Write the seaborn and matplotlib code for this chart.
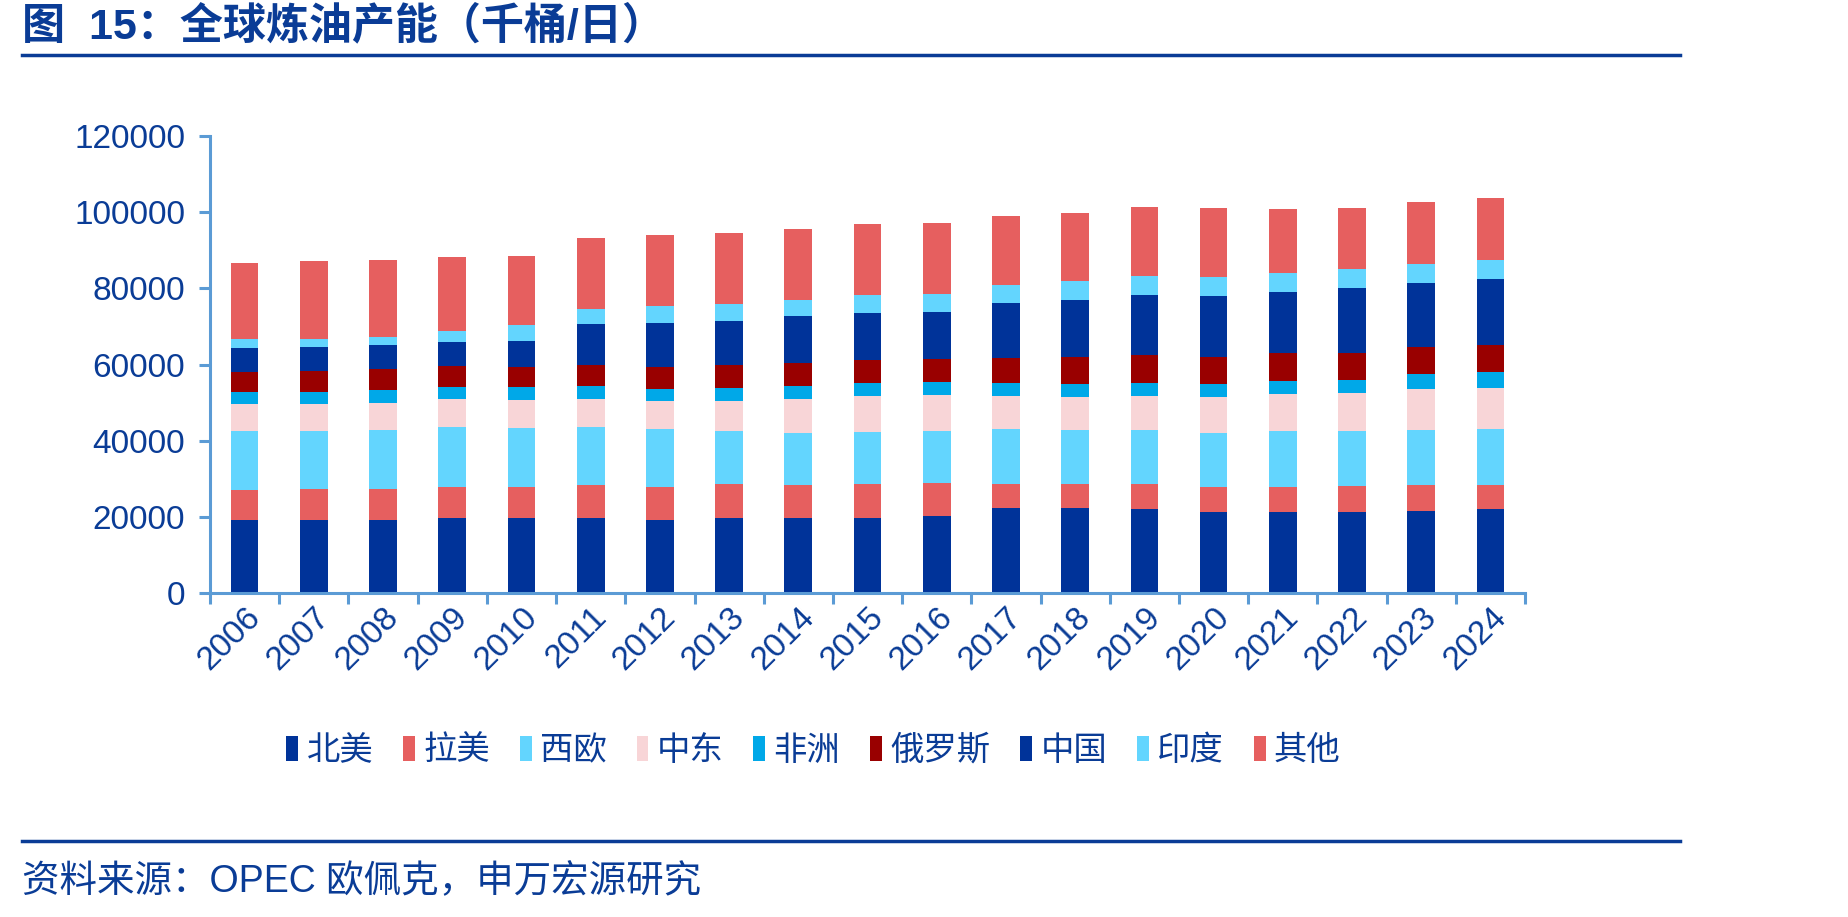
import numpy as np
import pandas as pd
import seaborn as sns
import matplotlib.pyplot as plt
from matplotlib.patches import Patch
from matplotlib.lines import Line2D

# Global refining capacity by region (kb/d)
years = [str(y) for y in range(2006, 2025)]
regions = ["北美", "拉美", "西欧", "中东", "非洲", "俄罗斯", "中国", "印度", "其他"]

north_america = [19250, 19250, 19250, 19780, 19600, 19600, 19250, 19780, 19780, 19780,
                 20300, 22230, 22400, 22140, 21350, 21350, 21350, 21610, 21960]
latin_america = [7880, 8140, 8140, 8140, 8310, 8660, 8660, 8750, 8490, 8750,
                 8660, 6480, 6300, 6390, 6560, 6560, 6650, 6650, 6480]
west_europe = [15490, 15220, 15490, 15580, 15320, 15230, 15050, 14090, 13830, 13830,
               13650, 14440, 14180, 14350, 14180, 14700, 14610, 14620, 14700]
middle_east = [6910, 6910, 7090, 7350, 7530, 7440, 7440, 7880, 8840, 9280,
               9280, 8490, 8670, 8930, 9270, 9540, 9980, 10680, 10760]
africa = [3330, 3330, 3330, 3320, 3330, 3330, 3240, 3410, 3500, 3500,
          3590, 3500, 3410, 3410, 3420, 3590, 3410, 4030, 4030]
russia = [5250, 5340, 5420, 5340, 5340, 5600, 5770, 5860, 5950, 5950,
          6040, 6480, 6910, 7180, 7090, 7170, 7090, 7090, 7270]
china = [6300, 6300, 6300, 6480, 6830, 10850, 11550, 11730, 12250, 12520,
         12340, 14610, 15140, 15920, 16190, 16190, 16890, 16800, 17320]
india = [2280, 2270, 2280, 2800, 4110, 3940, 4380, 4290, 4380, 4640,
         4730, 4730, 4900, 4820, 4900, 4900, 4990, 4900, 4990]
others = [19860, 20480, 20120, 19430, 18200, 18640, 18550, 18640, 18640, 18640,
          18640, 18020, 17940, 18120, 18030, 16800, 16190, 16280, 16100]

series = [north_america, latin_america, west_europe, middle_east, africa,
          russia, china, india, others]
colors = ["#003399", "#E65F5F", "#63D5FE", "#F8D5D7", "#00A8E8",
          "#990000", "#003399", "#63D5FE", "#E65F5F"]

navy = "#0A3C96"
axis_blue = "#5B9BD5"

df = pd.DataFrame(dict(zip(regions, series)), index=years)
cum = df.cumsum(axis=1)

plt.rcParams['font.family'] = ['Liberation Sans', 'Noto Sans CJK SC']

fig = plt.figure(figsize=(18.49, 9.17), dpi=100)
ax = fig.add_axes([0.1136, 0.3533, 0.8248 - 0.1136, 0.8517 - 0.3533])

# stacked bars: draw cumulative totals from the top layer down
for name, color in reversed(list(zip(regions, colors))):
    sns.barplot(x=years, y=cum[name].values, color=color, width=0.4,
                saturation=1, ax=ax, zorder=2)

ax.set_ylim(0, 120000)
ax.set_xlim(-0.5, len(years) - 0.5)
ax.set_yticks(np.arange(0, 120001, 20000))
ax.set_ylabel("")
ax.set_xlabel("")

for side in ["top", "right"]:
    ax.spines[side].set_visible(False)
for side in ["left", "bottom"]:
    ax.spines[side].set_color(axis_blue)
    ax.spines[side].set_linewidth(2.2)

ax.tick_params(axis="y", colors=axis_blue, width=2.2, length=8, labelsize=24,
               labelcolor=navy, pad=10)
ax.tick_params(axis="x", which="major", length=0, labelsize=24,
               labelcolor=navy, pad=6)
ax.set_xticks(np.arange(-0.5, len(years), 1), minor=True)
ax.tick_params(axis="x", which="minor", colors=axis_blue, width=2.2, length=8)
for lbl in ax.get_xticklabels():
    lbl.set_rotation(45)
    lbl.set_ha("right")
    lbl.set_rotation_mode("anchor")

handles = [Patch(facecolor=c, edgecolor="none", label=r) for r, c in zip(regions, colors)]
fig.legend(handles=handles, loc="center", bbox_to_anchor=(0.44, 0.181), ncol=9,
           frameon=False, fontsize=24, labelcolor=navy, handlelength=0.35,
           handleheight=0.8, handletextpad=0.25, columnspacing=0.9)

# header / footer
fig.text(0.012, 0.9706, "图  15：全球炼油产能（千桶/日）", fontsize=31,
         fontweight="bold", color=navy, va="center", ha="left")
fig.add_artist(Line2D([0.012, 0.9086], [0.940, 0.940], color=navy, lw=2.5,
                      transform=fig.transFigure))
fig.add_artist(Line2D([0.012, 0.9086], [0.0829, 0.0829], color=navy, lw=2.5,
                      transform=fig.transFigure))
fig.text(0.012, 0.038, "资料来源：OPEC 欧佩克，申万宏源研究", fontsize=27,
         color=navy, va="center", ha="left")

fig.savefig("out.png", dpi=100)
